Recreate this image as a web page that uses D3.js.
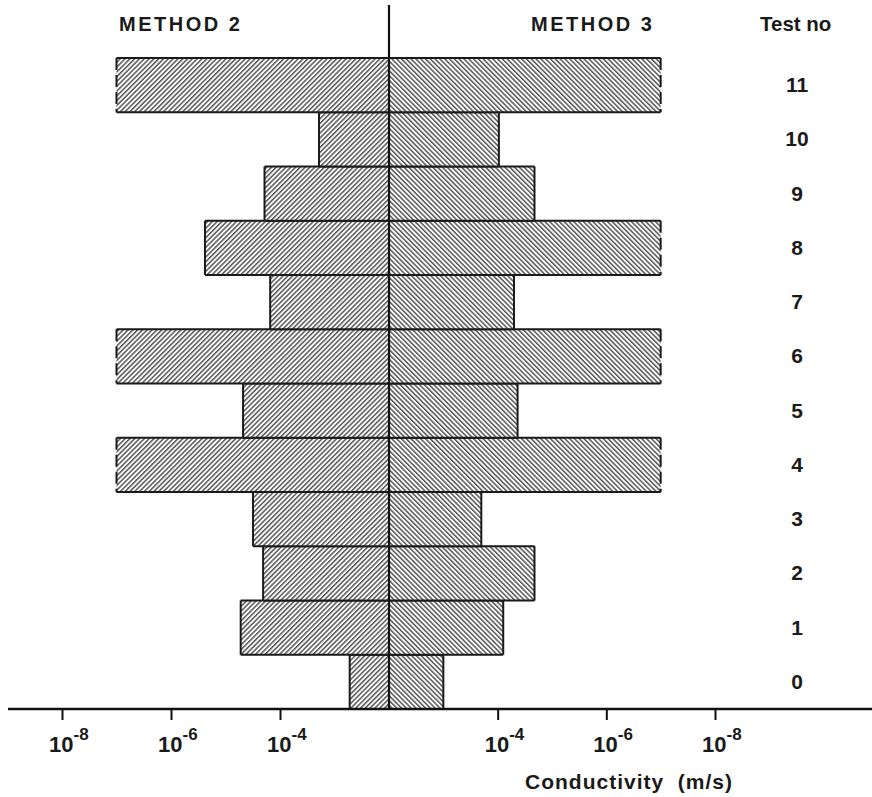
<!DOCTYPE html>
<html>
<head>
<meta charset="utf-8">
<script src="https://cdn.jsdelivr.net/npm/d3@7"></script>
<style>
  body { margin: 0; background: #fff; }
  text { font-family: "Liberation Sans", Arial, sans-serif; font-weight: bold; fill: #1a1a1a; }
</style>
</head>
<body>
<div id="chart"></div>
<script>
// test numbers, bottom to top
const tests = [0, 1, 2, 3, 4, 5, 6, 7, 8, 9, 10, 11];
// conductivity (m/s)
const method2 = [1.9e-3, 1.9e-5, 4.9e-5, 3.2e-5, 1e-7, 2.1e-5, 1e-7, 6.6e-5, 4.2e-6, 5.2e-5, 5.2e-4, 1e-7];
const method3 = [1.0e-3, 7.9e-5, 2.1e-5, 2.0e-4, 1e-7, 4.3e-5, 1e-7, 5.0e-5, 1e-7, 2.1e-5, 9.5e-5, 1e-7];
// open ended bars (drawn with a dashed end)
const open2 = [false, false, false, false, true, false, true, false, false, false, false, true];
const open3 = [false, false, false, false, true, false, true, false, true, false, false, true];
const tickVals = [1e-8, 1e-6, 1e-4];

const W = 872, H = 797;
const cx = 389, axisY = 709, topY = 58;

const svg = d3.select("#chart").append("svg").attr("width", W).attr("height", H);

const defs = svg.append("defs");
function hatch(id, angle) {
  const p = defs.append("pattern").attr("id", id)
    .attr("patternUnits", "userSpaceOnUse")
    .attr("width", 3.4).attr("height", 10)
    .attr("patternTransform", "rotate(" + angle + ")");
  p.append("rect").attr("width", 3.4).attr("height", 10).attr("fill", "#fff");
  p.append("line").attr("x1", 0.8).attr("x2", 0.8).attr("y1", 0).attr("y2", 10)
    .attr("stroke", "#2a2a2a").attr("stroke-width", 1.2);
}
hatch("hl", 45);
hatch("hr", -45);

const xl = d3.scaleLog().domain([1e-2, 1e-8]).range([cx, 62]);
const xr = d3.scaleLog().domain([1e-2, 1e-8]).range([cx, 715]);
const y = d3.scaleBand().domain(tests.slice().reverse()).range([topY, axisY]);

const rows = tests.map((t, i) => ({ t: t, m2: method2[i], m3: method3[i], o2: open2[i], o3: open3[i] }));

function side(scale, key, okey, fill) {
  const g = svg.append("g");
  rows.forEach(d => {
    const xe = scale(d[key]);
    const x0 = Math.min(cx, xe), x1 = Math.max(cx, xe);
    const y0 = y(d.t), y1 = y0 + y.bandwidth();
    g.append("rect").attr("x", x0).attr("y", y0).attr("width", x1 - x0).attr("height", y1 - y0)
      .attr("fill", "url(#" + fill + ")");
    g.append("path").attr("d", "M" + cx + "," + y0 + "H" + xe + "M" + cx + "," + y1 + "H" + xe)
      .attr("stroke", "#1a1a1a").attr("stroke-width", 2).attr("fill", "none");
    g.append("line").attr("x1", xe).attr("x2", xe).attr("y1", y0).attr("y2", y1)
      .attr("stroke", "#1a1a1a").attr("stroke-width", 2)
      .attr("stroke-dasharray", d[okey] ? "12,5" : null);
  });
}
side(xl, "m2", "o2", "hl");
side(xr, "m3", "o3", "hr");

// centre line
svg.append("line").attr("x1", cx).attr("x2", cx).attr("y1", 5).attr("y2", axisY)
  .attr("stroke", "#111").attr("stroke-width", 2.2);

// base line
svg.append("line").attr("x1", 8).attr("x2", W).attr("y1", axisY).attr("y2", axisY)
  .attr("stroke", "#111").attr("stroke-width", 2.6);

function axis(scale) {
  const g = svg.append("g").attr("transform", "translate(0," + axisY + ")")
    .call(d3.axisBottom(scale).tickValues(tickVals).tickSize(11).tickFormat(""));
  g.select(".domain").remove();
  g.selectAll(".tick line").attr("stroke", "#111").attr("stroke-width", 2);
  tickVals.forEach(v => {
    const x = scale(v);
    const e = Math.round(Math.log10(v));
    const t = svg.append("text").attr("x", x - 13).attr("y", 752).attr("font-size", 22);
    t.append("tspan").text("10");
    t.append("tspan").attr("dy", -12).attr("font-size", 17).text("-" + (-e));
  });
}
axis(xl);
axis(xr);

// row labels
svg.append("g").selectAll("text").data(tests).join("text")
  .attr("x", 797).attr("y", d => y(d) + y.bandwidth() / 2 + 7)
  .attr("text-anchor", "middle").attr("font-size", 21)
  .text(d => d);

svg.append("text").attr("x", 119).attr("y", 31).attr("font-size", 20)
  .attr("letter-spacing", 2.5).text("METHOD 2");
svg.append("text").attr("x", 531).attr("y", 31).attr("font-size", 20)
  .attr("letter-spacing", 2.5).text("METHOD 3");
svg.append("text").attr("x", 760).attr("y", 31).attr("font-size", 20.5).text("Test no");
svg.append("text").attr("x", 525).attr("y", 789).attr("font-size", 21)
  .attr("letter-spacing", 1).attr("xml:space", "preserve").text("Conductivity  (m/s)");
</script>
</body>
</html>
